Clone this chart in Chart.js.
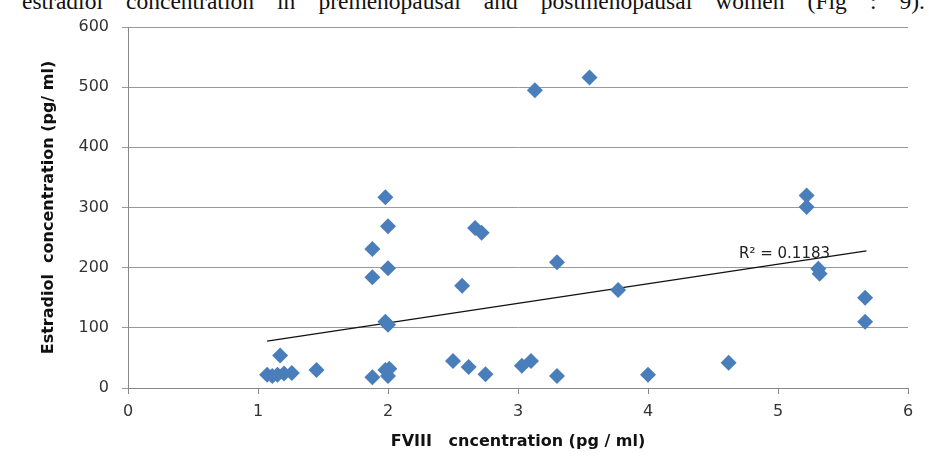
<!DOCTYPE html>
<html>
<head>
<meta charset="utf-8">
<script src="https://cdn.jsdelivr.net/npm/chart.js@4.4.0/dist/chart.umd.min.js"></script>
<style>
  body { margin: 0; background: #fff; overflow: hidden; }
  #wrap { position: relative; width: 929px; height: 476px; }
  #caption {
    position: absolute; left: 22px; right: 4px; top: -12px;
    font-family: "Liberation Serif", serif; font-size: 23.5px; color: #111;
    text-align: justify; text-align-last: justify; white-space: nowrap;
  }
  canvas { position: absolute; left: 0; top: 0; }
</style>
</head>
<body>
<div id="wrap">
  <div id="caption">estradiol concentration in premenopausal and postmenopausal women (Fig : 9).</div>
  <canvas id="scatterChart" width="929" height="476"></canvas>
</div>
<script>
// FVIII vs estradiol values
const fviii = [1.07, 1.11, 1.15, 1.17, 1.2, 1.26, 1.45, 1.88, 1.88, 1.88, 1.98, 2.0, 2.0, 1.98, 2.0, 1.98, 2.01, 2.0,
  2.5, 2.62, 2.75, 2.57, 2.67, 2.72, 3.03, 3.1, 3.3, 3.3, 3.13, 3.55, 3.77, 4.0, 4.62, 5.22, 5.22, 5.31, 5.32, 5.67, 5.67];
const estradiol = [22, 20, 22, 54, 24, 25, 30, 18, 231, 184, 317, 269, 199, 110, 105, 30, 32, 20,
  45, 35, 23, 170, 266, 258, 37, 45, 20, 209, 495, 516, 163, 22, 42, 320, 301, 198, 190, 150, 110];

// linear trend line endpoints as drawn in the picture
const trendX = [1.07, 5.68];
const trendY = [78, 228];
const rSquaredLabel = "R² = 0.1183";

const xTicks = [0, 1, 2, 3, 4, 5, 6];
const yTicks = [0, 100, 200, 300, 400, 500, 600];

const points = fviii.map((x, i) => ({ x: x, y: estradiol[i] }));
const trend = trendX.map((x, i) => ({ x: x, y: trendY[i] }));

const tickFont = { family: "'DejaVu Sans', sans-serif", size: 16 };
const titleFont = { family: "'DejaVu Sans', sans-serif", size: 16, weight: "bold" };

const r2Plugin = {
  id: "r2Label",
  afterDatasetsDraw(chart) {
    const { ctx, scales } = chart;
    ctx.save();
    ctx.font = "15px 'DejaVu Sans', sans-serif";
    ctx.fillStyle = "#222";
    ctx.textAlign = "center";
    ctx.textBaseline = "middle";
    ctx.fillText(rSquaredLabel, scales.x.getPixelForValue(5.05), scales.y.getPixelForValue(222));
    ctx.restore();
  }
};

document.addEventListener("DOMContentLoaded", () => {
  const ctx = document.getElementById("scatterChart").getContext("2d");
  new Chart(ctx, {
    type: "scatter",
    data: {
      datasets: [
        {
          label: "Estradiol",
          data: points,
          pointStyle: "rectRot",
          pointRadius: 8,
          pointHoverRadius: 8,
          backgroundColor: "#4a7ebb",
          borderColor: "#4a7ebb",
          borderWidth: 0,
        },
        {
          label: "Trend",
          type: "line",
          data: trend,
          borderColor: "#111",
          borderWidth: 1.3,
          pointRadius: 0,
          fill: false,
        },
      ],
    },
    options: {
      responsive: false,
      animation: false,
      layout: { padding: { left: 0, right: 21, top: 27, bottom: 0 } },
      plugins: { legend: { display: false }, tooltip: { enabled: false } },
      scales: {
        x: {
          type: "linear",
          min: 0,
          max: 6,
          afterBuildTicks: (axis) => { axis.ticks = xTicks.map(v => ({ value: v })); },
          afterFit: (axis) => { axis.height = 88; },
          grid: { drawOnChartArea: false, drawTicks: true, tickLength: 6, color: "#888" },
          border: { color: "#888", width: 1 },
          ticks: { color: "#333", font: tickFont, padding: 8 },
          title: {
            display: true,
            text: "FVIII   cncentration (pg / ml)",
            color: "#111",
            font: titleFont,
            padding: { top: 4, bottom: 25 },
          },
        },
        y: {
          min: 0,
          max: 600,
          afterBuildTicks: (axis) => { axis.ticks = yTicks.map(v => ({ value: v })); },
          afterFit: (axis) => { axis.width = 128; },
          grid: { drawTicks: true, tickLength: 6, color: "#999" },
          border: { color: "#888", width: 1 },
          ticks: { color: "#333", font: tickFont, padding: 13 },
          title: {
            display: true,
            text: "Estradiol  concentration (pg/ ml)",
            color: "#111",
            font: titleFont,
            padding: { top: 39, bottom: 4 },
          },
        },
      },
    },
    plugins: [r2Plugin],
  });
});
</script>
</body>
</html>
